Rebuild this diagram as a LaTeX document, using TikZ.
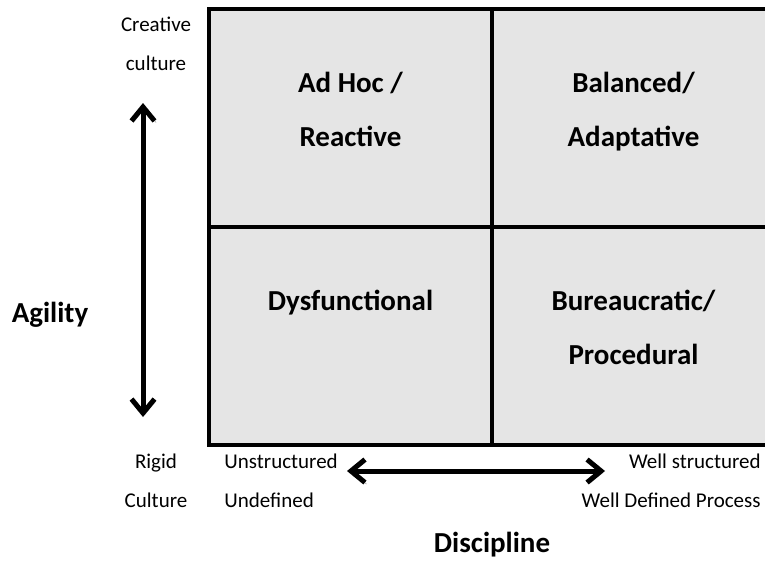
\documentclass[tikz,border=0pt]{standalone}
\usepackage{fontspec}
\setmainfont{Carlito}
\usetikzlibrary{arrows.meta,positioning}
\tikzset{
	%Define standard arrow tip
	>={Straight Barb[length=7pt,width=11.5pt]},
	%Define style for the quadrants
	quad/.style={
		rectangle,
		draw=black, line width=2pt,
		fill=gray!20,
		minimum width=141.5pt,
		minimum height=109pt,
		inner sep=0pt, outer sep=0pt},
	% Define style for the quadrant titles
	quadText/.style={
		font=\fontsize{14.5}{27}\selectfont\bfseries,
		align=center, anchor=base, inner sep=0pt},
	% Define style for the small labels
	smallText/.style={
		font=\fontsize{10.5}{19.5}\selectfont,
		align=center, anchor=base, inner sep=0pt},
	% Define arrow style
	edgeStyle/.style={
		<->,
		line width=2.5pt,
		preaction={draw=gray!55, transform canvas={shift={(0.8pt,-0.8pt)}}}}
}

\begin{document}
\begin{tikzpicture}[x=0.5pt,y=-0.5pt]
		\useasboundingbox (0,0) rectangle (765,562);
		\clip (0,0) rectangle (765,562);
		
		%quadrants
		\node[quad] (adhocBox) at (350.5,118) {};
		\node[quad, right=0pt of adhocBox] (balancedBox) {};
		\node[quad, below=0pt of adhocBox] (dysBox) {};
		\node[quad, right=0pt of dysBox] (bureauBox) {};
		
		%base of a node with two lines is its last line
		\node[quadText] (adhocText) at (350.5,146) {Ad Hoc /\\Reactive};
		\node[quadText] (balancedText) at (633.5,146) {Balanced/\\Adaptative};
		\node[quadText] (dysText) at (350.5,310) {Dysfunctional};
		\node[quadText] (bureauText) at (633.5,364) {Bureaucratic/\\Procedural};
		
		%agility axis
		\node[smallText] (creative) at (156,70) {Creative\\culture};
		\node[smallText] (rigid) at (156,507) {Rigid\\Culture};
		\node[quadText] (agility) at (50,322) {Agility};
		\coordinate (agiTop) at (143,103);
		\coordinate (agiBot) at (143,417);
		\draw[edgeStyle] (agiTop) -- (agiBot);
		
		%discipline axis
		\node[smallText, align=left, anchor=base west] (unstruct) at (224,507) {Unstructured\\Undefined};
		\node[smallText, align=right, anchor=base east] (wellStruct) at (761,507) {Well structured\\Well Defined Process};
		\node[quadText] (discipline) at (492,552) {Discipline};
		\coordinate (discLeft) at (347,471);
		\coordinate (discRight) at (605,471);
		\draw[edgeStyle] (discLeft) -- (discRight);
		
\end{tikzpicture}
\end{document}
